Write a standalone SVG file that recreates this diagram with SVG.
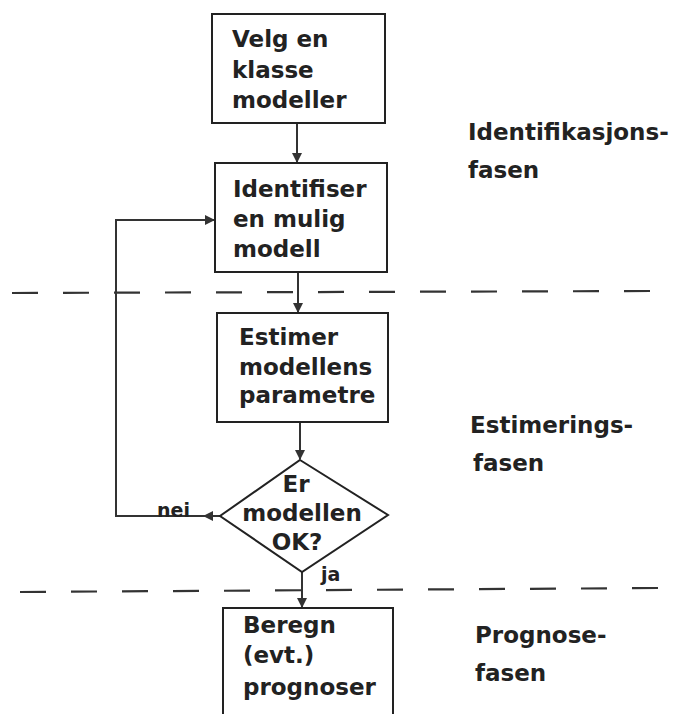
<svg xmlns="http://www.w3.org/2000/svg" width="684" height="714" viewBox="0 0 684 714">
<defs>
<style>
.box{fill:none;stroke:#222;stroke-width:2}
.ln{fill:none;stroke:#333;stroke-width:2}
.dash{fill:none;stroke:#333;stroke-width:2.2;stroke-dasharray:26 25}
text{font-family:"DejaVu Sans",sans-serif;font-weight:bold;font-size:23px;fill:#222}
.sm{font-size:19px}
</style>
<marker id="ah" viewBox="0 0 10 10" refX="9" refY="5" markerWidth="10" markerHeight="10" orient="auto" markerUnits="userSpaceOnUse">
<path d="M0,0 L10,5 L0,10 z" fill="#333"/>
</marker>
</defs>
<rect width="684" height="714" fill="#fff"/>
<g id="phase-lines">
<line class="dash" x1="12" y1="293" x2="650" y2="291"/>
<line class="dash" x1="20" y1="592" x2="660" y2="588"/>
</g>
<g id="connectors">
<line class="ln" x1="297" y1="123" x2="297" y2="162" marker-end="url(#ah)"/>
<line class="ln" x1="298" y1="272" x2="298" y2="312" marker-end="url(#ah)"/>
<line class="ln" x1="300" y1="422" x2="300" y2="459" marker-end="url(#ah)"/>
<line class="ln" x1="302" y1="572" x2="302" y2="607" marker-end="url(#ah)"/>
<polyline class="ln" points="220,516 116,516 116,220 214,220" marker-end="url(#ah)"/>
<path d="M203,516 L213,511 L213,521 z" fill="#333"/>
<text class="sm" x="157" y="517">nei</text>
<text class="sm" x="321" y="581">ja</text>
</g>
<g id="n1">
<rect class="box" x="212" y="14" width="173" height="109"/>
<text x="232" y="47">Velg en</text>
<text x="232" y="78">klasse</text>
<text x="232" y="108">modeller</text>
</g>
<g id="n2">
<rect class="box" x="215" y="163" width="172" height="109"/>
<text x="233" y="197">Identifiser</text>
<text x="233" y="227">en mulig</text>
<text x="233" y="257">modell</text>
</g>
<g id="n3">
<rect class="box" x="217" y="313" width="171" height="109"/>
<text x="239" y="345">Estimer</text>
<text x="239" y="375">modellens</text>
<text x="239" y="403">parametre</text>
</g>
<g id="n4">
<path class="box" d="M223,714 L223,608 L393,608 L393,714"/>
<text x="243" y="633">Beregn</text>
<text x="243" y="663">(evt.)</text>
<text x="243" y="695">prognoser</text>
</g>
<g id="n5">
<polygon class="box" points="300,460 388,515 302,572 220,516"/>
<text x="296" y="492" text-anchor="middle">Er</text>
<text x="302" y="521" text-anchor="middle">modellen</text>
<text x="297" y="550" text-anchor="middle">OK?</text>
</g>
<g id="phase-labels">
<text x="468" y="140">Identifikasjons-</text>
<text x="468" y="178">fasen</text>
<text x="470" y="433">Estimerings-</text>
<text x="473" y="471">fasen</text>
<text x="475" y="643">Prognose-</text>
<text x="475" y="681">fasen</text>
</g>
</svg>
